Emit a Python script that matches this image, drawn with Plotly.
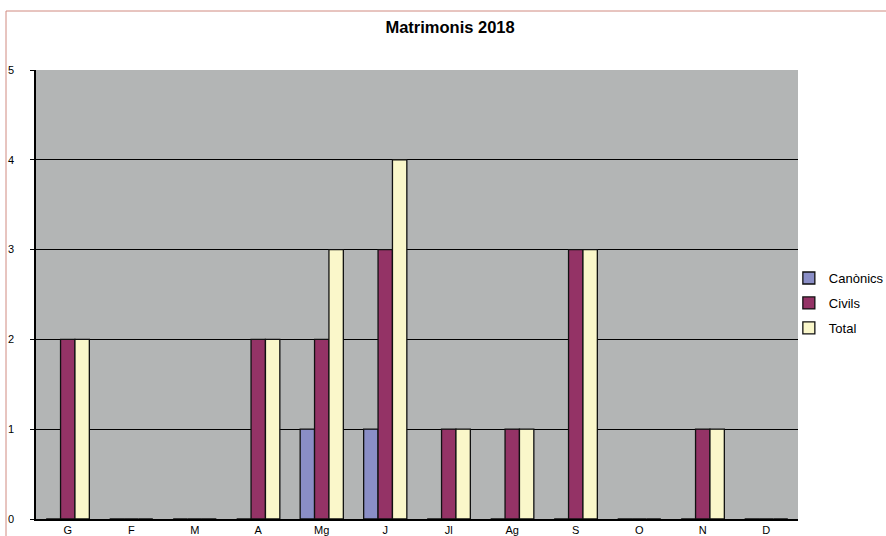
import plotly.graph_objects as go

months = ["G", "F", "M", "A", "Mg", "J", "Jl", "Ag", "S", "O", "N", "D"]
canonics = [0, 0, 0, 0, 1, 1, 0, 0, 0, 0, 0, 0]
civils = [2, 0, 0, 2, 2, 3, 1, 1, 3, 0, 1, 0]
total = [2, 0, 0, 2, 3, 4, 1, 1, 3, 0, 1, 0]
y_ticks = [0, 1, 2, 3, 4, 5]

fig = go.Figure()
for name, vals, col in [("Canònics", canonics, "#8A8EC6"),
                        ("Civils", civils, "#943366"),
                        ("Total", total, "#FAF7CA")]:
    fig.add_trace(go.Bar(x=months, y=vals, name=name, legendgroup=name,
                         marker=dict(color=col, line=dict(color="#111111", width=1.3))))

fig.update_layout(
    width=886, height=536,
    margin=dict(l=36, r=88, t=70, b=17, autoexpand=False),
    paper_bgcolor="white",
    plot_bgcolor="#B3B5B5",
    barmode="group",
    bargap=0.32,
    bargroupgap=0,
    font=dict(family="Liberation Sans, Arial, sans-serif", size=12, color="black"),
    title=dict(text="<b>Matrimonis 2018</b>", x=0.508, xanchor="center",
               y=1 - 27 / 536, yanchor="middle",
               font=dict(size=16.5, family="Liberation Sans, Arial, sans-serif")),
    legend=dict(x=0.988, y=0.57, xanchor="left", yanchor="top",
                bgcolor="rgba(0,0,0,0)", font=dict(size=13),
                itemwidth=30, tracegroupgap=5),
    showlegend=True,
    xaxis=dict(showline=True, linecolor="black", linewidth=1.5, ticks="",
               showgrid=False, tickfont=dict(size=11), automargin=False,
               ticklabelstandoff=0),
    yaxis=dict(range=[0, 5], tickvals=y_ticks, showline=True, linecolor="black", linewidth=1.5,
               showgrid=True, gridcolor="black", gridwidth=1.2, ticks="outside", ticklen=4,
               tickcolor="black", zeroline=False, tickfont=dict(size=11), automargin=False,
               ticklabelstandoff=14),
    shapes=[dict(type="rect", xref="paper", yref="paper",
                 x0=-30 / 762, x1=1.3, y0=-0.2, y1=(519 - 11) / 449,
                 line=dict(color="#D08A80", width=1), fillcolor="rgba(0,0,0,0)", layer="below")],
)

fig.write_html("out.html", config={"displayModeBar": False},
               post_script="document.body.style.margin='0';document.body.style.overflow='hidden';")
